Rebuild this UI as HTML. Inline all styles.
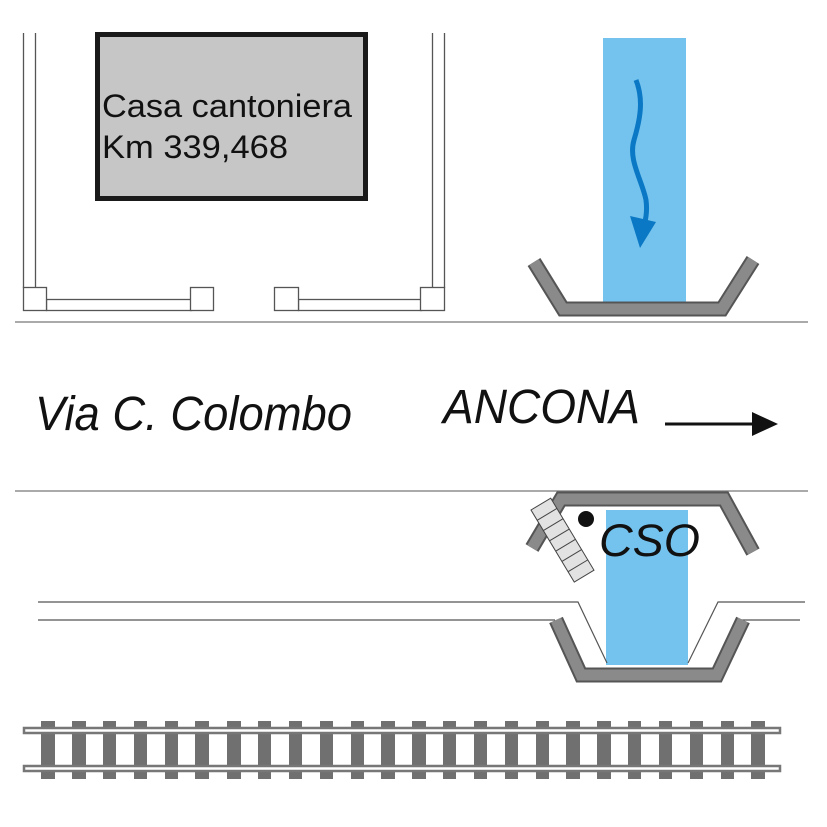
<!DOCTYPE html>
<html><head><style>html,body{margin:0;padding:0;background:#fff}svg{display:block}</style></head>
<body>
<svg width="827" height="827" viewBox="0 0 827 827" xmlns="http://www.w3.org/2000/svg">
<rect width="827" height="827" fill="#fff"/>
<g stroke="#555" stroke-width="1.3" fill="#fff">
<line x1="23.5" y1="33" x2="23.5" y2="288"/>
<line x1="35.5" y1="33" x2="35.5" y2="288"/>
<line x1="432.5" y1="33" x2="432.5" y2="288"/>
<line x1="444.5" y1="33" x2="444.5" y2="288"/>
<rect x="46.5" y="299.5" width="145" height="11"/>
<rect x="23.5" y="287.5" width="23" height="23"/>
<rect x="190.5" y="287.5" width="23" height="23"/>
<rect x="298.5" y="299.5" width="123" height="11"/>
<rect x="274.5" y="287.5" width="24" height="23"/>
<rect x="420.5" y="287.5" width="24" height="23"/>
</g>
<rect x="97.5" y="34.5" width="268" height="164" fill="#c6c6c6" stroke="#1a1a1a" stroke-width="5"/>
<text x="102" y="117" font-family="Liberation Sans, sans-serif" font-size="32" fill="#111" textLength="250" lengthAdjust="spacingAndGlyphs">Casa cantoniera</text>
<text x="102" y="158" font-family="Liberation Sans, sans-serif" font-size="32" fill="#111" textLength="186" lengthAdjust="spacingAndGlyphs">Km 339,468</text>
<g stroke="#777" stroke-width="1.3">
<line x1="15" y1="322" x2="808" y2="322"/>
<line x1="15" y1="491" x2="808" y2="491"/>
</g>
<rect x="603" y="38" width="83" height="265" fill="#74c3ee"/>
<path d="M636 80 C644 100 640 120 634 140 C628 160 642 180 646 200 C648 215 644 225 642 235" stroke="#0a78c4" stroke-width="5" fill="none"/>
<polygon points="630,216 656,222 640,248" fill="#0a78c4"/>
<path d="M534 262 L563 309 L722 309 L753 260" stroke="#555" stroke-width="15" fill="none"/>
<path d="M534 262 L563 309 L722 309 L753 260" stroke="#8a8a8a" stroke-width="11" fill="none"/>
<text x="35" y="430" font-family="Liberation Sans, sans-serif" font-style="italic" font-size="48" fill="#111" textLength="317" lengthAdjust="spacingAndGlyphs">Via C. Colombo</text>
<text x="443" y="423" font-family="Liberation Sans, sans-serif" font-style="italic" font-size="48" fill="#111" textLength="197" lengthAdjust="spacingAndGlyphs">ANCONA</text>
<line x1="665" y1="424" x2="755" y2="424" stroke="#111" stroke-width="3"/>
<polygon points="752,412 778,424 752,436" fill="#111"/>
<rect x="606" y="510" width="82" height="155" fill="#74c3ee"/>
<path d="M532 548 L561 499 L724 499 L753 552" stroke="#555" stroke-width="15" fill="none"/>
<path d="M532 548 L561 499 L724 499 L753 552" stroke="#8a8a8a" stroke-width="11" fill="none"/>
<g transform="translate(531,510) rotate(-31)">
<rect x="0" y="0" width="23" height="84" fill="#e2e2e2" stroke="#444" stroke-width="1"/>
<g stroke="#444" stroke-width="1"><line x1="0" y1="12" x2="23" y2="12"/><line x1="0" y1="24" x2="23" y2="24"/><line x1="0" y1="36" x2="23" y2="36"/><line x1="0" y1="48" x2="23" y2="48"/><line x1="0" y1="60" x2="23" y2="60"/><line x1="0" y1="72" x2="23" y2="72"/></g>
</g>
<circle cx="586" cy="519" r="8" fill="#111"/>
<text x="599" y="556" font-family="Liberation Sans, sans-serif" font-style="italic" font-size="45" fill="#111" textLength="101" lengthAdjust="spacingAndGlyphs">CSO</text>
<g stroke="#555" stroke-width="1.2" fill="none">
<polyline points="38,602 578,602 607,663"/>
<line x1="38" y1="620" x2="555" y2="620"/>
<polyline points="688,663 718,602 805,602"/>
<line x1="738" y1="620" x2="800" y2="620"/>
</g>
<path d="M556 620 L581 675 L717 675 L743 620" stroke="#555" stroke-width="15" fill="none"/>
<path d="M556 620 L581 675 L717 675 L743 620" stroke="#8a8a8a" stroke-width="11" fill="none"/>
<g fill="#707070">
<rect x="41" y="721" width="14" height="58"/><rect x="72" y="721" width="14" height="58"/><rect x="103" y="721" width="13" height="58"/><rect x="134" y="721" width="13" height="58"/><rect x="165" y="721" width="13" height="58"/><rect x="195" y="721" width="14" height="58"/>
<rect x="227" y="721" width="14" height="58"/><rect x="258" y="721" width="13" height="58"/><rect x="289" y="721" width="13" height="58"/><rect x="320" y="721" width="13" height="58"/><rect x="351" y="721" width="13" height="58"/><rect x="381" y="721" width="14" height="58"/>
<rect x="412" y="721" width="14" height="58"/><rect x="443" y="721" width="13" height="58"/><rect x="474" y="721" width="13" height="58"/><rect x="505" y="721" width="13" height="58"/><rect x="536" y="721" width="13" height="58"/><rect x="566" y="721" width="14" height="58"/>
<rect x="597" y="721" width="14" height="58"/><rect x="628" y="721" width="13" height="58"/><rect x="659" y="721" width="13" height="58"/><rect x="690" y="721" width="13" height="58"/><rect x="721" y="721" width="13" height="58"/><rect x="751" y="721" width="14" height="58"/>
</g>
<g fill="#fff" stroke="#777" stroke-width="2.5">
<rect x="24" y="728" width="756" height="5"/>
<rect x="24" y="766" width="756" height="5"/>
</g>
</svg>
</body></html>
